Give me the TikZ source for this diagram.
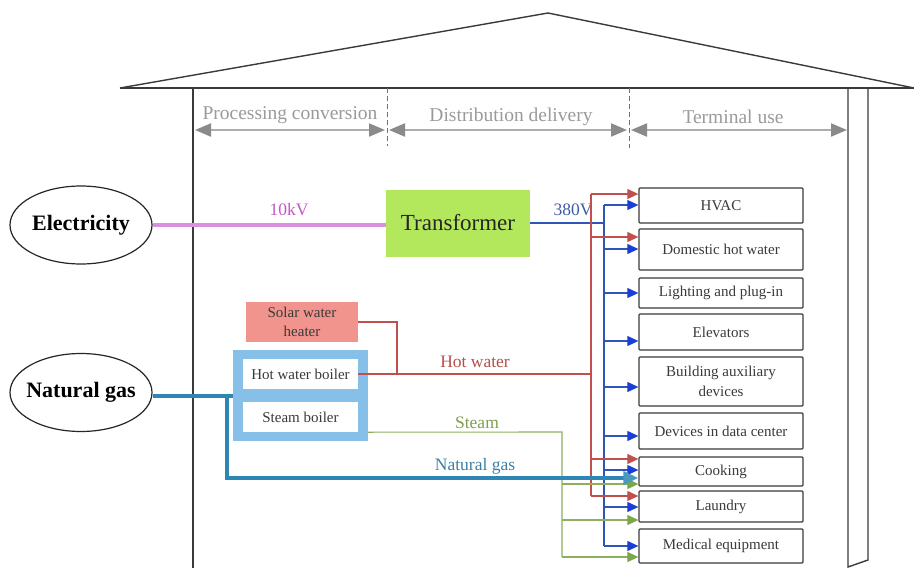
\documentclass[tikz,border=0pt]{standalone}
\usepackage{fontspec}
\setmainfont{Liberation Serif}
\usetikzlibrary{arrows.meta,shapes.geometric}
\definecolor{housec}{HTML}{3A3A3A}
\definecolor{stagegray}{HTML}{9A9A9A}
\definecolor{stagearrc}{HTML}{8A8A8A}
\definecolor{dashred}{HTML}{C0504D}
\definecolor{pinkc}{HTML}{DA8FE0}
\definecolor{pinktxt}{HTML}{C455C4}
\definecolor{transc}{HTML}{B3E85C}
\definecolor{blueln}{HTML}{2F55B8}
\definecolor{bluetip}{HTML}{1B3FD6}
\definecolor{bluetxt}{HTML}{3D5CA6}
\definecolor{redln}{HTML}{C0504D}
\definecolor{redtxt}{HTML}{B5504A}
\definecolor{greenln}{HTML}{8EAF5E}
\definecolor{greentip}{HTML}{7BA74A}
\definecolor{greentxt}{HTML}{7E9E50}
\definecolor{gasc}{HTML}{2E86B5}
\definecolor{gastxt}{HTML}{3B7FA5}
\definecolor{framec}{HTML}{86BFE8}
\definecolor{solarc}{HTML}{F1948D}
\definecolor{boxtxt}{HTML}{3A3A3A}
\begin{document}
\begin{tikzpicture}[x=1pt,y=-1pt,
  house/.style={draw=housec,line width=1.4pt},
  dashline/.style={draw=dashred,line width=1pt,dash pattern=on 5pt off 3pt},
  stagelbl/.style={text=stagegray,font=\fontsize{19.5}{22}\selectfont,inner sep=0pt},
  stagearr/.style={draw=stagearrc!70,line width=2pt,{Triangle[length=16pt,width=13pt,fill=stagearrc,color=stagearrc]}-{Triangle[length=16pt,width=13pt,fill=stagearrc,color=stagearrc]}},
  src/.style={ellipse,draw=black!85,line width=1.2pt,fill=white,minimum width=142pt,minimum height=78pt,inner sep=0pt,font=\fontsize{22}{24}\selectfont\bfseries},
  enduse/.style={draw=housec,line width=1.3pt,fill=white,rounded corners=1pt,minimum width=164pt,inner sep=0pt,text=boxtxt,align=center,font=\fontsize{15}{20}\selectfont},
  inner/.style={fill=white,minimum width=115pt,minimum height=30pt,inner sep=0pt,text=boxtxt,font=\fontsize{15}{18}\selectfont},
  flowlbl/.style={inner sep=0pt,font=\fontsize{17.5}{20}\selectfont},
  rl/.style={draw=redln,line width=1.1pt},
  bl/.style={draw=blueln,line width=1.1pt},
  gl/.style={draw=greenln,line width=1.1pt},
  ra/.style={rl,-{Triangle[length=11pt,width=10pt,color=redln]}},
  ba/.style={bl,-{Triangle[length=11pt,width=10pt,color=bluetip]}},
  ga/.style={gl,-{Triangle[length=11pt,width=10pt,color=greentip]}},
  gasln/.style={draw=gasc,line width=3.8pt}
]
\useasboundingbox (0,0) rectangle (914,568);
% house
\draw[house] (120,88) -- (548,13) -- (914,88);
\draw[house] (120,88) -- (914,88);
\draw[house] (193,88) -- (193,568);
\draw[house] (848,88) -- (848,567) -- (868,560) -- (868,88);
\draw[dashline] (387,88) -- (387,146);
\draw[dashline] (629,88) -- (629,148);
% stage labels
\node[stagelbl] (s1) at (290,115) {Processing conversion};
\node[stagelbl] (s2) at (511,117) {Distribution delivery};
\node[stagelbl] (s3) at (733,117) {Terminal use};
\coordinate (a1) at (195,130); \coordinate (a2) at (385,130);
\coordinate (a3) at (389,130); \coordinate (a4) at (627,130);
\coordinate (a5) at (631,130); \coordinate (a6) at (847,130);
\draw[stagearr] (a1) -- (a2);
\draw[stagearr] (a3) -- (a4);
\draw[stagearr] (a5) -- (a6);
% sources
\node[src] (elec) at (81,225) {\makebox[0pt][c]{Electricity}};
\node[src] (gas) at (81,392.5) {\makebox[0pt][c]{Natural gas}};
% transformer
\node[fill=transc,minimum width=144pt,minimum height=67pt,inner sep=0pt,text=black!85,font=\fontsize{23}{26}\selectfont] (trans) at (458,223) {Transformer};
% solar and boilers
\node[fill=solarc,minimum width=112pt,minimum height=40pt,inner sep=0pt,text=boxtxt,align=center,font=\fontsize{15}{19}\selectfont] (solar) at (302,322) {Solar water\\heater};
\node[fill=framec,minimum width=135pt,minimum height=91pt,inner sep=0pt] (frame) at (300.5,395.5) {};
\node[inner] (hwb) at (300.5,374) {Hot water boiler};
\node[inner] (stb) at (300.5,417) {Steam boiler};
% end uses
\node[enduse,minimum height=35pt] (hvac) at (721,205.5) {HVAC};
\node[enduse,minimum height=41pt] (dhw) at (721,249.5) {Domestic hot water};
\node[enduse,minimum height=30pt] (light) at (721,293) {Lighting and plug-in};
\node[enduse,minimum height=36pt] (elev) at (721,332) {Elevators};
\node[enduse,minimum height=49pt] (aux) at (721,381.5) {Building auxiliary\\devices};
\node[enduse,minimum height=36pt] (dc) at (721,431) {Devices in data center};
\node[enduse,minimum height=29pt] (cook) at (721,471.5) {Cooking};
\node[enduse,minimum height=31pt] (laund) at (721,506.5) {Laundry};
\node[enduse,minimum height=34pt] (med) at (721,546) {Medical equipment};
% electricity
\draw[draw=pinkc,line width=3.8pt] (elec.east) -- (elec.east -| trans.west);
\node[flowlbl,text=pinktxt] (kv) at (289,210) {10kV};
\coordinate (bbus) at (604,223);
\draw[bl] (trans.east) -- (bbus);
\node[flowlbl,text=bluetxt] (v380) at (573,210) {380V};
\draw[bl] (604,205) -- (604,546);
\draw[ba] (604,205) -- (hvac.west |- 0,205);
\draw[ba] (604,249) -- (dhw.west |- 0,249);
\draw[ba] (604,293) -- (light.west |- 0,293);
\draw[ba] (604,341) -- (elev.west |- 0,341);
\draw[ba] (604,387) -- (aux.west |- 0,387);
\draw[ba] (604,436) -- (dc.west |- 0,436);
\draw[ba] (604,470) -- (cook.west |- 0,470);
\draw[ba] (604,507) -- (laund.west |- 0,507);
\draw[ba] (604,546) -- (med.west |- 0,546);
% hot water
\coordinate (rbus) at (591,374);
\draw[rl] (solar.east) -- (397,322) -- (397,374);
\draw[rl] (hwb.east) -- (rbus);
\node[flowlbl,text=redtxt] (hwl) at (475,362) {Hot water};
\draw[rl] (591,194) -- (591,496);
\draw[ra] (591,194) -- (hvac.west |- 0,194);
\draw[ra] (591,237) -- (dhw.west |- 0,237);
\draw[ra] (591,459) -- (cook.west |- 0,459);
\draw[ra] (591,496) -- (laund.west |- 0,496);
% steam
\coordinate (sturn) at (562,432);
\draw[gl] (frame.east |- stb.south) -- (sturn) -- (562,557);
\node[flowlbl,text=greentxt] (stl) at (477,423) {Steam};
\draw[ga] (562,484) -- (cook.west |- 0,484);
\draw[ga] (562,520) -- (laund.west |- 0,520);
\draw[ga] (562,557) -- (med.west |- 0,557);
% natural gas
\coordinate (gturn) at (227,396);
\draw[gasln] (gas.east |- gturn) -- (frame.west |- gturn);
\draw[gasln,-{Triangle[length=15pt,width=13pt,color=gasc!85]}] (gturn) -- (227,478) -- (cook.west |- 0,478);
\node[flowlbl,text=gastxt] (ngl) at (475,466) {Natural gas};
\end{tikzpicture}
\end{document}
